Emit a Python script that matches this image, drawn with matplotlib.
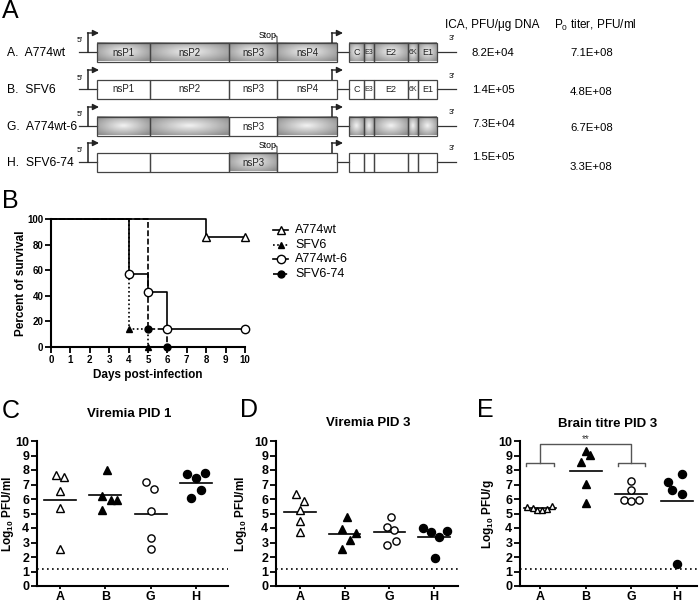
import numpy as np
import matplotlib
matplotlib.use("Agg")
import matplotlib.pyplot as plt
from matplotlib.patches import Rectangle

plt.rcParams['font.family'] = ['Liberation Sans', 'DejaVu Sans']
plt.rcParams['mathtext.fontset'] = 'custom'
plt.rcParams['mathtext.rm'] = 'Liberation Sans'
plt.rcParams['mathtext.bf'] = 'Liberation Sans:bold'

W, H = 700, 604

# ---------------- data ----------------
# panel A: constructs
construct_labels = ["A.  A774wt", "B.  SFV6", "G.  A774wt-6", "H.  SFV6-74"]
ica_titer = ["8.2E+04", "1.4E+05", "7.3E+04", "1.5E+05"]
p0_titer = ["7.1E+08", "4.8E+08", "6.7E+08", "3.3E+08"]
ns_genes = ["nsP1", "nsP2", "nsP3", "nsP4"]
struct_genes = ["C", "E3", "E2", "6K", "E1"]
ns_from_a774 = [[1, 1, 1, 1], [0, 0, 0, 0], [1, 1, 0, 1], [0, 0, 1, 0]]
struct_from_a774 = [1, 0, 1, 0]
names_shown = [True, True, False, False]
has_stop = [True, False, False, True]

# panel B: survival
groups = ["A774wt", "SFV6", "A774wt-6", "SFV6-74"]
days_a774wt = [0, 8, 10]
surv_a774wt = [100, 85.7, 85.7]
days_sfv6 = [0, 4, 5]
surv_sfv6 = [100, 14.3, 0]
days_a774wt6 = [0, 4, 5, 6, 10]
surv_a774wt6 = [100, 57.1, 42.9, 14.3, 14.3]
days_sfv674 = [0, 5, 6]
surv_sfv674 = [100, 14.3, 0]

# panels C-E: log10 titres
categories = ["A", "B", "G", "H"]
pid1_A = [7.65, 7.5, 6.55, 5.38, 2.55]
pid1_B = [7.98, 6.23, 5.93, 5.93, 5.24]
pid1_G = [7.15, 6.69, 5.2, 3.29, 2.53]
pid1_H = [7.7, 7.8, 7.47, 6.62, 6.05]

pid3_A = [6.32, 5.86, 5.24, 4.5, 3.75]
pid3_B = [4.78, 3.93, 3.63, 3.17, 2.55]
pid3_G = [4.74, 4.09, 3.86, 3.1, 2.83]
pid3_H = [4.02, 3.75, 3.79, 3.36, 1.9]

brain_A = [5.46, 5.39, 5.27, 5.27, 5.34, 5.5]
brain_B = [9.29, 9.06, 8.58, 7.05, 5.75]
brain_G = [7.24, 6.64, 5.96, 5.84, 5.91]
brain_H = [7.69, 7.17, 6.64, 6.32, 1.55]

detection_limit = 1.2

# scatter spread of points within a column (x offsets)
jit_pid1 = [[-0.09, 0.09, 0, 0, 0], [0.03, -0.08, 0.13, 0.25, -0.08],
            [-0.1, 0.08, 0, 0, 0], [-0.2, 0.2, 0, 0.1, -0.1]]
jit_pid3 = [[-0.08, 0.09, 0, 0, 0], [0.05, -0.07, 0.25, 0.13, -0.05],
            [0.04, -0.06, 0.11, 0.16, -0.06], [-0.24, -0.07, 0.28, 0.11, 0.02]]
jit_brain = [[-0.28, -0.16, -0.06, 0.04, 0.15, 0.27], [0, 0.1, -0.1, 0, 0],
             [0, 0, -0.17, 0, 0.16], [0.11, -0.2, -0.1, 0.11, 0]]

fig = plt.figure(figsize=(7.0, 6.04), dpi=100)


def rect(l, t, r, b):
    return [l / W, 1 - b / H, (r - l) / W, (b - t) / H]


ov = fig.add_axes([0, 0, 1, 1])
ov.axis('off')

# panel letters
for letter, (lx, ly) in zip("ABCDE", [(2, 11), (2, 201), (2, 411), (240, 410), (477, 410)]):
    ov.text(lx, ly, letter, fontsize=18, va='center', ha='left')


# ---------------- panel A ----------------
def shaded(x0, x1, y0, y1):
    yy, xx = np.mgrid[-1:1:24j, -1:1:48j]
    r = np.clip(np.sqrt(xx ** 2 + yy ** 2), 0, 1.3)
    img = 0.95 - 0.3 * r
    ov.imshow(img, extent=(x0, x1, y1, y0), cmap='gray', vmin=0, vmax=1,
              aspect='auto', interpolation='bilinear', zorder=1)


row_y = [52, 89, 126, 162]
ns_edges = [97, 150, 229, 277, 337]
st_edges = [349, 364, 374, 408, 418, 437]
hh = 9.5
lc = '#333333'
arrow_kw = dict(arrowstyle='-|>', lw=1.0, color='#222222', mutation_scale=9,
                shrinkA=0, shrinkB=0)

for i, yc in enumerate(row_y):
    ov.text(7, yc + 1, construct_labels[i], fontsize=8.7, va='center', ha='left')
    ov.plot([79, 97], [yc, yc], color=lc, lw=0.9)
    ov.plot([337, 349], [yc, yc], color=lc, lw=0.9)
    ov.plot([437, 456], [yc, yc], color=lc, lw=0.9)
    # promoters
    ov.plot([88, 88], [yc, yc - 19], color='#222222', lw=1.1)
    ov.annotate('', xy=(99, yc - 19), xytext=(87.5, yc - 19), arrowprops=arrow_kw)
    ov.plot([332, 332], [yc - hh, yc - 19], color='#222222', lw=1.1)
    ov.annotate('', xy=(343, yc - 19), xytext=(331.5, yc - 19), arrowprops=arrow_kw)
    ov.text(80, yc - 11, "5'", fontsize=6, ha='center', va='center')
    ov.text(452, yc - 13, "3'", fontsize=6, ha='center', va='center')

    for j in range(4):
        x0, x1 = ns_edges[j], ns_edges[j + 1]
        if ns_from_a774[i][j]:
            shaded(x0, x1, yc - hh, yc + hh)
        ov.add_patch(Rectangle((x0, yc - hh), x1 - x0, 2 * hh, fill=False,
                               ec='#444444', lw=0.9, zorder=3))
        if names_shown[i] or j == 2:
            ov.text((x0 + x1) / 2, yc + 0.5, ns_genes[j], fontsize=7,
                    ha='center', va='center', color='#222222', zorder=4)
    for j in range(5):
        x0, x1 = st_edges[j], st_edges[j + 1]
        if struct_from_a774[i]:
            shaded(x0, x1, yc - hh, yc + hh)
        ov.add_patch(Rectangle((x0, yc - hh), x1 - x0, 2 * hh, fill=False,
                               ec='#444444', lw=0.9, zorder=3))
        if names_shown[i]:
            fs = 5 if struct_genes[j] in ("E3", "6K") else 6.5
            ov.text((x0 + x1) / 2, yc + 0.5, struct_genes[j], fontsize=fs,
                    ha='center', va='center', color='#222222', zorder=4)
    if has_stop[i]:
        ov.plot([277, 277, 275], [yc - hh, yc - 15.5, yc - 16.5], color='#444444', lw=0.8)
        ov.text(277, yc - 17, "Stop", fontsize=6.3, ha='right', va='center')

ov.text(445, 25, "ICA, PFU/\u03bcg DNA", fontsize=8.5, va='center', ha='left')
ov.text(554, 25, r"P$_0$ titer, PFU/ml", fontsize=8.5, va='center', ha='left')
for txt, y in zip(ica_titer, [53, 90, 124, 157]):
    ov.text(472, y, txt, fontsize=8.2, va='center', ha='left')
for txt, y in zip(p0_titer, [53, 92, 128, 167]):
    ov.text(570, y, txt, fontsize=8.2, va='center', ha='left')


def style_axes(ax, fs):
    ax.set_facecolor('none')
    for s in ('top', 'right'):
        ax.spines[s].set_visible(False)
    for s in ('left', 'bottom'):
        ax.spines[s].set_linewidth(1.5)
    ax.tick_params(width=1.3, length=4, direction='out', pad=1.5, labelsize=fs)
    for lab in ax.get_xticklabels() + ax.get_yticklabels():
        lab.set_fontweight('bold')


# ---------------- panel B ----------------
axb = fig.add_axes(rect(51, 219, 245, 347))
surv = [(days_a774wt, surv_a774wt, '-', '^', 'white', 6),
        (days_sfv6, surv_sfv6, (0, (1, 1.5)), '^', 'black', 4.5),
        (days_a774wt6, surv_a774wt6, '-', 'o', 'white', 6),
        (days_sfv674, surv_sfv674, (0, (3.5, 1.5)), 'o', 'black', 5)]
for order in (1, 3, 2, 0):
    d, s, ls, mk, fc, ms = surv[order]
    axb.step(d, s, where='post', color='black', lw=1.2, ls=ls, clip_on=False, zorder=2)
for d, s, ls, mk, fc, ms in surv:
    axb.plot(d[1:], s[1:], ls='none', marker=mk, mfc=fc, mec='black', mew=1.0,
             ms=ms, clip_on=False, zorder=4)
axb.set_xlim(0, 10)
axb.set_ylim(0, 100)
axb.set_xticks(range(0, 11))
axb.set_yticks(range(0, 101, 20))
style_axes(axb, 7)
fig.text(21 / W, 1 - 283 / H, "Percent of survival", rotation=90, fontsize=8.5,
         fontweight='bold', ha='center', va='center')
fig.text(148 / W, 1 - 375 / H, "Days post-infection", fontsize=8.5,
         fontweight='bold', ha='center', va='center')

# legend
for i, (d, s, ls, mk, fc, ms) in enumerate(surv):
    y = 230 + 14.6 * i
    ov.plot([273, 288], [y, y], color='black', lw=1.2, ls=ls)
    ov.plot([280.5], [y], marker=mk, mfc=fc, mec='black', mew=1.0, ms=ms)
    ov.text(295, y, groups[i], fontsize=9, va='center', ha='left')


# ---------------- panels C-E ----------------
def scatter_panel(box, a_px, h_px, title, tpos, ylabel, ylx, data, jit):
    l, t, r, b = box
    unit = (h_px - a_px) / 3
    ax = fig.add_axes(rect(l, t, r, b))
    ax.set_xlim(1 - (a_px - l) / unit, 4 + (r - h_px) / unit)
    ax.set_ylim(0, 10)
    styles = [('^', 'white', 5.5), ('^', 'black', 5.5), ('o', 'white', 5.2), ('o', 'black', 5.8)]
    for k, vals in enumerate(data):
        mk, fc, ms = styles[k]
        if k == 0 and len(vals) == 6:
            ms = 4.5
        xs = [k + 1 + o for o in jit[k]]
        ax.plot(xs, vals, ls='none', marker=mk, mfc=fc, mec='black', mew=1.0,
                ms=ms, clip_on=False, zorder=3)
        m = np.mean(vals)
        ax.plot([k + 1 - 0.35, k + 1 + 0.35], [m, m], color='black', lw=1.2, zorder=2)
    ax.axhline(detection_limit, color='black', lw=1.2, ls=(0, (1, 2)))
    ax.set_xticks([1, 2, 3, 4])
    ax.set_xticklabels(categories)
    ax.set_yticks(range(0, 11))
    style_axes(ax, 9)
    ax.tick_params(axis='x', length=2.5, pad=1, labelsize=9)
    fig.text(tpos[0] / W, 1 - tpos[1] / H, title, fontsize=9.5, fontweight='bold',
             ha='center', va='center')
    fig.text(ylx / W, 1 - 514 / H, ylabel, rotation=90, fontsize=8.5,
             fontweight='bold', ha='center', va='center')
    return ax


scatter_panel((37, 441, 228, 586), 60, 196, "Viremia PID 1", (129, 414),
              r"Log$_{\mathbf{10}}$ PFU/ml", 8,
              [pid1_A, pid1_B, pid1_G, pid1_H], jit_pid1)
scatter_panel((276, 441, 458, 586), 300, 434, "Viremia PID 3", (368, 423),
              r"Log$_{\mathbf{10}}$ PFU/ml", 241,
              [pid3_A, pid3_B, pid3_G, pid3_H], jit_pid3)
axe = scatter_panel((520, 441, 697, 586), 540, 677, "Brain titre PID 3", (608, 424),
                    r"Log$_{\mathbf{10}}$ PFU/g", 488,
                    [brain_A, brain_B, brain_G, brain_H], jit_brain)

# significance bracket A vs G
bc = '#555555'
for c in (1, 3):
    axe.plot([c - 0.3, c - 0.3, c + 0.3, c + 0.3], [8.25, 8.47, 8.47, 8.25],
             color=bc, lw=1.0, clip_on=False)
axe.plot([1, 1, 3, 3], [8.47, 9.8, 9.8, 8.47], color=bc, lw=1.0, clip_on=False)
axe.text(2, 9.8, "**", fontsize=7, ha='center', va='bottom', color='#333333')

ov.set_xlim(0, W)
ov.set_ylim(H, 0)

fig.savefig("out.png", dpi=100)
